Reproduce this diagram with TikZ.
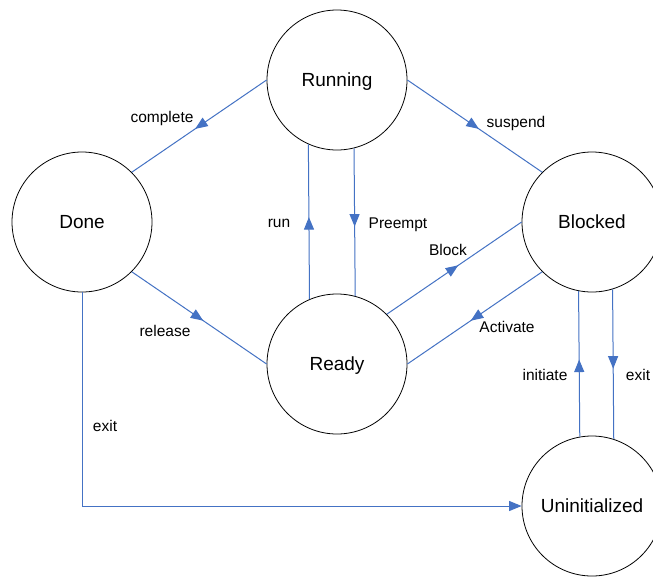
\documentclass[tikz,border=0pt]{standalone}
\usepackage{fontspec}
\setmainfont{Liberation Sans}
\usetikzlibrary{arrows.meta,decorations.markings}
\definecolor{edgeblue}{RGB}{68,114,196}
\begin{document}
\begin{tikzpicture}[x=1pt,y=-1pt,
  state/.style={circle,draw=black,line width=0.8pt,minimum size=140pt,inner sep=0pt,
    text height=13.5pt,text depth=0pt,font=\fontsize{19}{22}\selectfont},
  lbl/.style={font=\fontsize{15.5}{18}\selectfont,inner sep=0pt,text=black},
  flow/.style={draw=edgeblue,line width=1pt,postaction={decorate},
    decoration={markings,mark=at position 0.53 with {\arrow{Triangle[length=12.5pt,width=10pt]}}}},
  endflow/.style={draw=edgeblue,line width=1pt,-{Triangle[length=12.5pt,width=10pt]}}
]
\useasboundingbox (0,0) rectangle (653,576);
\fill[white] (0,0) rectangle (653,576);

\node[state] (running) at (337,80) {Running};
\node[state] (done) at (82,222) {Done};
\node[state] (blocked) at (592,222) {Blocked};
\node[state] (ready) at (337,364) {Ready};
\node[state] (uninit) at (592,506) {Uninitialized};

\draw[flow] (running.180) -- (done.45);
\draw[flow] (running.0) -- (blocked.135);
\draw[flow] (ready.113.6) -- (running.246.4);
\draw[flow] (running.284.05) -- (ready.75.95);
\draw[flow] (ready.45) -- (blocked.180);
\draw[flow] (blocked.225) -- (ready.0);
\draw[flow] (done.-45) -- (ready.180);
\draw[flow] (uninit.100.7) -- (blocked.259.3);
\draw[flow] (blocked.287.46) -- (uninit.72.54);
\draw[endflow] (done.south) |- (uninit.west);

\node[lbl] (lcomplete) at (162,118) {complete};
\node[lbl] (lsuspend) at (516,123) {suspend};
\node[lbl] (lrun) at (279,223) {run};
\node[lbl] (lpreempt) at (398,225) {Preempt};
\node[lbl] (lblock) at (448,250) {Block};
\node[lbl] (lactivate) at (507,327) {Activate};
\node[lbl] (lrelease) at (165,331) {release};
\node[lbl] (linitiate) at (545,375) {initiate};
\node[lbl] (lexitr) at (638,375) {exit};
\node[lbl] (lexitl) at (105,426) {exit};
\end{tikzpicture}
\end{document}
